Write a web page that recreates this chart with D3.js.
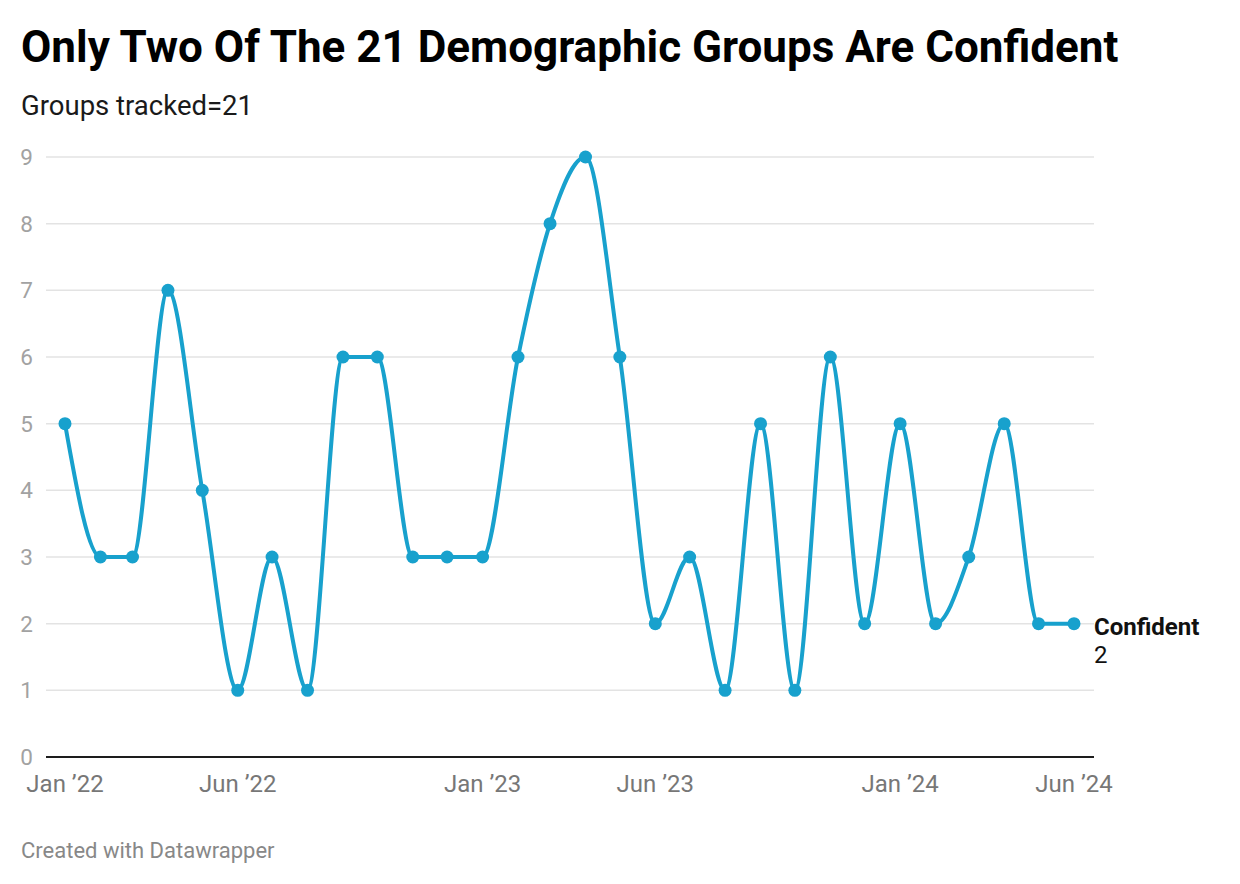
<!DOCTYPE html>
<html>
<head>
<meta charset="utf-8">
<script src="https://cdn.jsdelivr.net/npm/d3@7"></script>
<style>
  body { margin: 0; background: #fff; font-family: Roboto, sans-serif; }
  svg text { font-family: Roboto, sans-serif; }
</style>
</head>
<body>
<div id="chart"></div>
<script>
// monthly values, Jan 2022 .. Jun 2024
var months = ["2022-01","2022-02","2022-03","2022-04","2022-05","2022-06","2022-07","2022-08","2022-09","2022-10","2022-11","2022-12",
              "2023-01","2023-02","2023-03","2023-04","2023-05","2023-06","2023-07","2023-08","2023-09","2023-10","2023-11","2023-12",
              "2024-01","2024-02","2024-03","2024-04","2024-05","2024-06"];
var confident = [5,3,3,7,4,1,3,1,6,6,3,3, 3,6,8,9,6,2,3,1,5,1,6,2, 5,2,3,5,2,2];
var yTicks = [0,1,2,3,4,5,6,7,8,9];
var xTicks = ["2022-01","2022-06","2023-01","2023-06","2024-01","2024-06"];

var title = "Only Two Of The 21 Demographic Groups Are Confident";
var subtitle = "Groups tracked=21";
var seriesName = "Confident";
var footer = "Created with Datawrapper";

function drawChart(){
  var W = 1240, H = 884;
  var parse = d3.timeParse("%Y-%m");
  var fmt = function(d){ return d3.timeFormat("%b")(d) + " \u2019" + d3.timeFormat("%y")(d); };

  var data = months.map(function(m, i){ return {date: parse(m), value: confident[i]}; });

  var svg = d3.select("#chart").append("svg")
    .attr("width", W).attr("height", H);

  svg.append("text").attr("x", 21).attr("y", 62)
    .style("font-size", "44px").style("font-weight", 700).attr("fill", "#000")
    .text(title);
  svg.append("text").attr("x", 21).attr("y", 115)
    .style("font-size", "27.5px").attr("fill", "#1a1a1a")
    .text(subtitle);

  var x = d3.scaleTime()
    .domain(d3.extent(data, function(d){ return d.date; }))
    .range([65, 1074]);
  var y = d3.scaleLinear().domain([0, 9]).range([757, 157]);

  var left = 46, right = 1094;

  // gridlines
  svg.append("g").selectAll("line")
    .data(yTicks.filter(function(t){ return t > 0; }))
    .enter().append("line")
    .attr("x1", left).attr("x2", right)
    .attr("y1", function(d){ return y(d); }).attr("y2", function(d){ return y(d); })
    .attr("stroke", "#e3e3e3").attr("stroke-width", 1.5);

  svg.append("g").selectAll("text")
    .data(yTicks).enter().append("text")
    .attr("x", 33).attr("y", function(d){ return y(d) + 8; })
    .attr("text-anchor", "end")
    .style("font-size", "22.5px").attr("fill", "#a2a2a2")
    .text(function(d){ return d; });

  // baseline
  svg.append("line")
    .attr("x1", left).attr("x2", right)
    .attr("y1", y(0)).attr("y2", y(0))
    .attr("stroke", "#1d1d1d").attr("stroke-width", 2);

  svg.append("g").selectAll("text")
    .data(xTicks.map(parse)).enter().append("text")
    .attr("x", function(d){ return x(d); }).attr("y", 792)
    .attr("text-anchor", "middle")
    .style("font-size", "24px").attr("fill", "#777")
    .text(fmt);

  var line = d3.line()
    .x(function(d){ return x(d.date); })
    .y(function(d){ return y(d.value); })
    .curve(d3.curveMonotoneX);

  svg.append("path").datum(data)
    .attr("d", line)
    .attr("fill", "none")
    .attr("stroke", "#18a1cd")
    .attr("stroke-width", 4);

  svg.append("g").selectAll("circle")
    .data(data).enter().append("circle")
    .attr("cx", function(d){ return x(d.date); })
    .attr("cy", function(d){ return y(d.value); })
    .attr("r", 6.5)
    .attr("fill", "#18a1cd");

  var last = data[data.length - 1];
  svg.append("text").attr("x", 1094).attr("y", y(last.value) + 11)
    .style("font-size", "24px").style("font-weight", 700).attr("fill", "#111")
    .text(seriesName);
  svg.append("text").attr("x", 1094).attr("y", y(last.value) + 39)
    .style("font-size", "24px").attr("fill", "#111")
    .text(last.value);

  svg.append("text").attr("x", 21).attr("y", 858)
    .style("font-size", "22px").attr("fill", "#888")
    .text(footer);
}
window.onload = drawChart;
</script>
</body>
</html>
